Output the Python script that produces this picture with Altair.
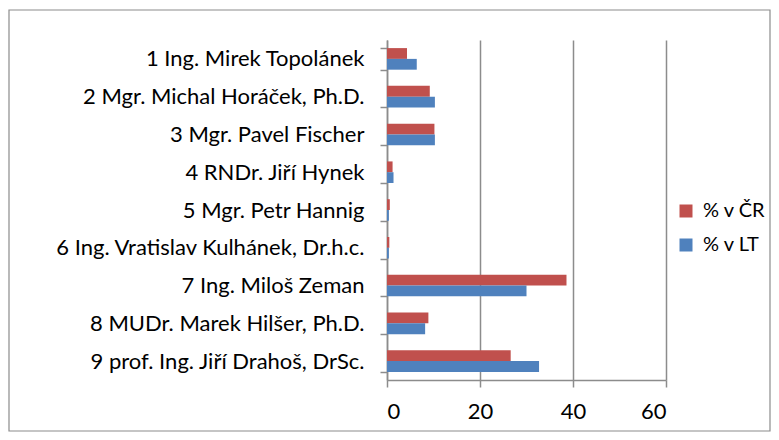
import altair as alt
import pandas as pd

candidates = [
    "1 Ing. Mirek Topolánek",
    "2 Mgr. Michal Horáček, Ph.D.",
    "3 Mgr. Pavel Fischer",
    "4 RNDr. Jiří Hynek",
    "5 Mgr. Petr Hannig",
    "6 Ing. Vratislav Kulhánek, Dr.h.c.",
    "7 Ing. Miloš Zeman",
    "8 MUDr. Marek Hilšer, Ph.D.",
    "9 prof. Ing. Jiří Drahoš, DrSc.",
]
pct_cr = [4.3, 9.2, 10.2, 1.2, 0.6, 0.5, 38.6, 8.9, 26.6]
pct_lt = [6.4, 10.3, 10.3, 1.4, 0.4, 0.4, 30.0, 8.2, 32.7]
series = ["% v ČR", "% v LT"]
colors = ["#C0504D", "#4F81BD"]
x_ticks = [0, 20, 40, 60]

FONT = "Lato"
FS = 22
GRAY = "#8C8C8C"

df = pd.DataFrame({
    "candidate": candidates * 2,
    "series": [series[0]] * len(candidates) + [series[1]] * len(candidates),
    "value": pct_cr + pct_lt,
})

bars = alt.Chart(df).mark_bar().encode(
    x=alt.X(
        "value:Q",
        scale=alt.Scale(domain=[0, 60], nice=False),
        axis=alt.Axis(
            values=x_ticks, title=None, grid=True, gridColor=GRAY, gridWidth=1.5,
            domainColor=GRAY, domainWidth=1.5, tickColor=GRAY, tickWidth=1.5, tickSize=7,
            labelFont=FONT, labelFontSize=FS, labelColor="black", labelPadding=14,
        ),
    ),
    y=alt.Y(
        "candidate:N", sort=candidates,
        scale=alt.Scale(paddingInner=0.4286, paddingOuter=0.2143),
        axis=alt.Axis(
            title=None, tickBand="extent", domainColor=GRAY, domainWidth=1.5,
            tickColor=GRAY, tickWidth=1.5, tickSize=7,
            labelFont=FONT, labelFontSize=FS, labelColor="black", labelPadding=16,
            labelLimit=500,
        ),
    ),
    yOffset=alt.YOffset("series:N", sort=series),
    color=alt.Color(
        "series:N", sort=series,
        scale=alt.Scale(domain=series, range=colors),
        legend=alt.Legend(
            title=None, orient="none", legendX=289, legendY=161,
            symbolType="square", symbolSize=169, symbolStrokeWidth=0,
            labelFont=FONT, labelFontSize=20, labelColor="black",
            rowPadding=14, labelOffset=7,
        ),
    ),
)

border = alt.Chart(pd.DataFrame({"a": [0]})).mark_rect(
    fill=None, stroke=GRAY, strokeWidth=1.2
).encode(
    x=alt.value(-378), x2=alt.value(383), y=alt.value(-30), y2=alt.value(391)
)

chart = alt.layer(border, bars).properties(
    width=279, height=340,
    autosize=alt.AutoSizeParams(type="none"),
    padding={"left": 379, "top": 32, "right": 105, "bottom": 52},
).configure_view(stroke=None)

chart.save("out.html", embed_options={"renderer": "svg", "actions": False})
